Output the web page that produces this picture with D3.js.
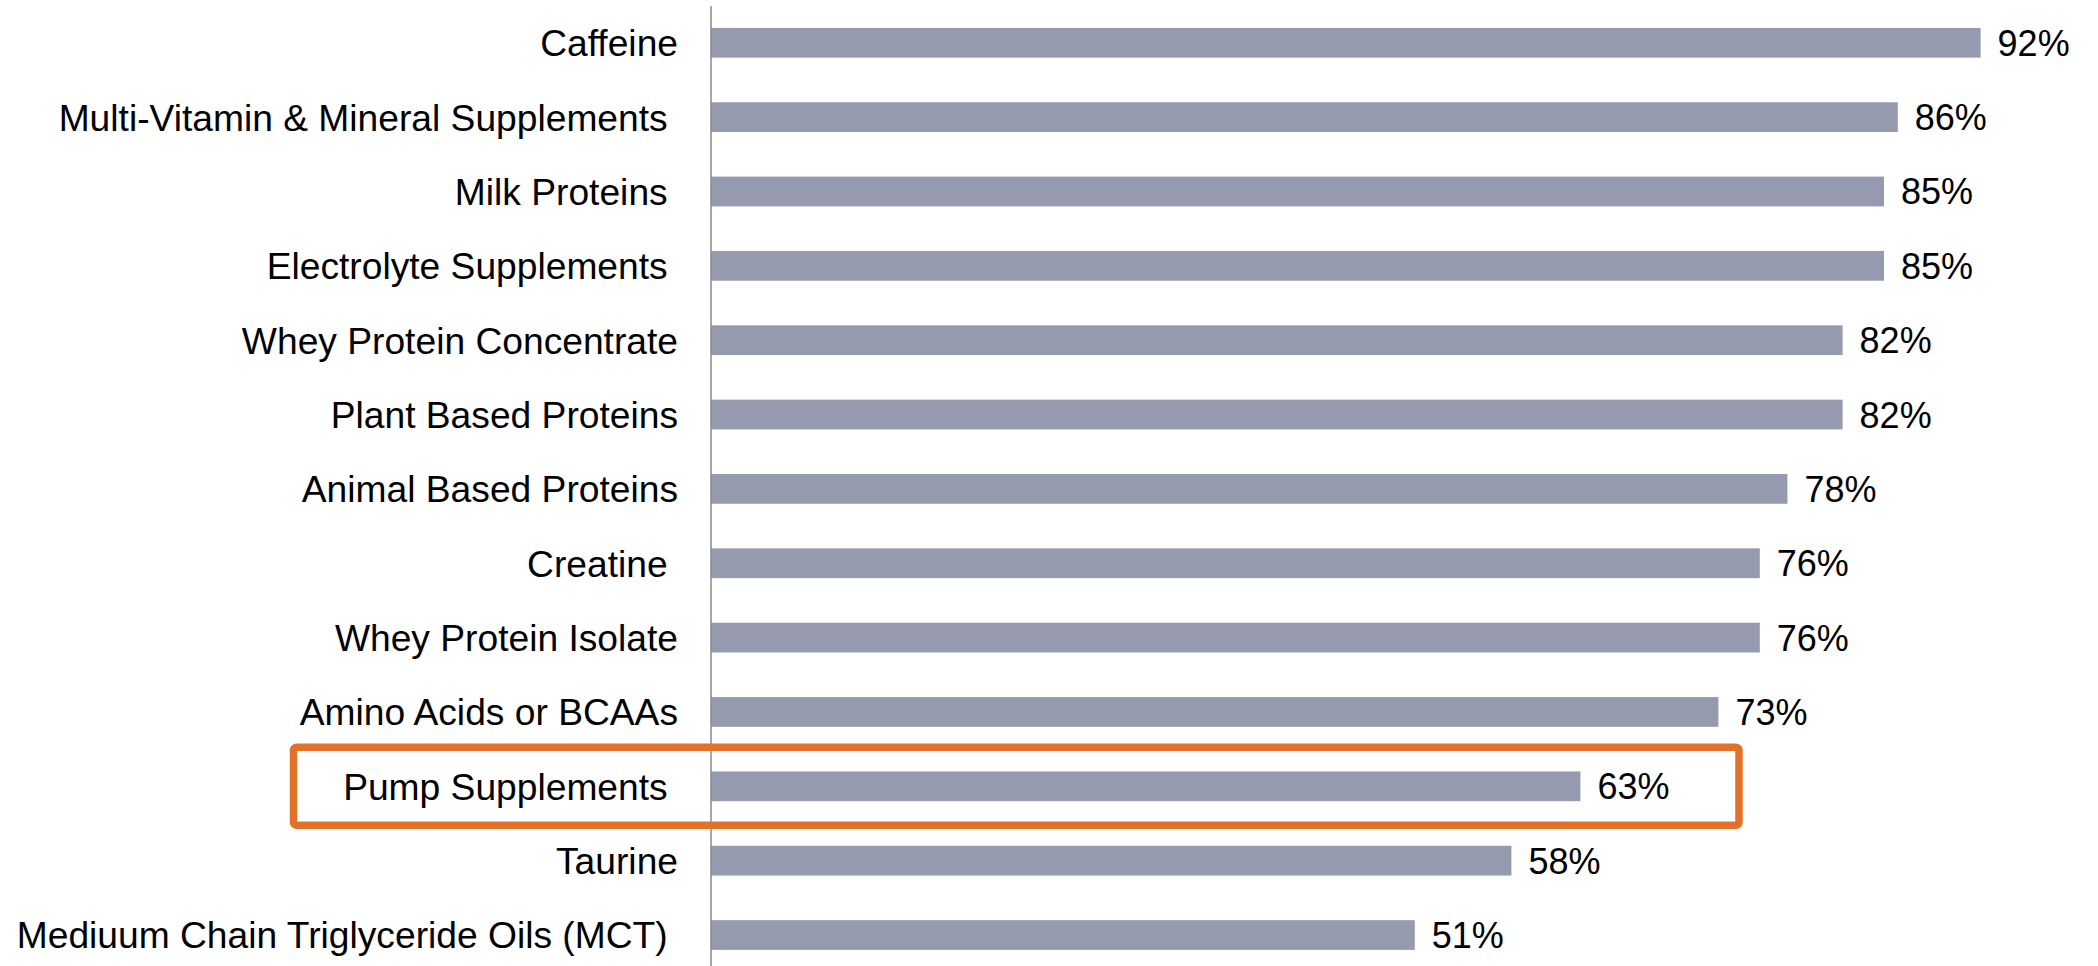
<!DOCTYPE html>
<html>
<head>
<meta charset="utf-8">
<script src="https://cdn.jsdelivr.net/npm/d3@7"></script>
<style>
  html, body { margin: 0; padding: 0; background: #ffffff; }
  svg { display: block; }
  text { font-family: "Liberation Sans", Arial, sans-serif; fill: #000000; }
</style>
</head>
<body>
<svg id="chart" width="2098" height="966"></svg>
<script>
// Supplement categories (some labels carry a trailing space, as typed in the source deck)
const categories = [
  "Caffeine",
  "Multi-Vitamin & Mineral Supplements ",
  "Milk Proteins ",
  "Electrolyte Supplements ",
  "Whey Protein Concentrate",
  "Plant Based Proteins",
  "Animal Based Proteins",
  "Creatine ",
  "Whey Protein Isolate",
  "Amino Acids or BCAAs",
  "Pump Supplements ",
  "Taurine",
  "Mediuum Chain Triglyceride Oils (MCT) "
];

// Share of respondents, in percent
const values = [92, 86, 85, 85, 82, 82, 78, 76, 76, 73, 63, 58, 51];

// Category that gets the highlight frame
const highlighted = ["Pump Supplements "];

const svg = d3.select("#chart");
const width = 2098, height = 966;

const x = d3.scaleLinear().domain([0, 100]).range([711, 2091]);
const y = d3.scaleBand()
  .domain(categories)
  .range([5.6, 972.2])
  .paddingInner(0.6)
  .paddingOuter(0.3);

const rows = categories.map((c, i) => ({ cat: c, value: values[i] }));

// Bars
svg.append("g")
  .selectAll("rect")
  .data(rows)
  .join("rect")
  .attr("x", x(0))
  .attr("y", d => y(d.cat))
  .attr("width", d => x(d.value) - x(0))
  .attr("height", y.bandwidth())
  .attr("fill", "#959aaf");

// Vertical category axis line
svg.append("line")
  .attr("x1", x(0)).attr("x2", x(0))
  .attr("y1", 6).attr("y2", height)
  .attr("stroke", "#8a8a8a")
  .attr("stroke-width", 1.5);

// Category labels
svg.append("g")
  .selectAll("text")
  .data(rows)
  .join("text")
  .attr("x", x(0) - 33)
  .attr("y", d => y(d.cat) + y.bandwidth() / 2)
  .attr("dy", "0.36em")
  .attr("text-anchor", "end")
  .style("white-space", "pre")
  .attr("font-size", 37.2)
  .text(d => d.cat);

// Value labels
svg.append("g")
  .selectAll("text")
  .data(rows)
  .join("text")
  .attr("x", d => x(d.value) + 17)
  .attr("y", d => y(d.cat) + y.bandwidth() / 2)
  .attr("dy", "0.36em")
  .attr("font-size", 36)
  .text(d => d.value + "%");

// Highlight frame around the chosen row
svg.append("g")
  .selectAll("rect")
  .data(rows.filter(d => highlighted.includes(d.cat)))
  .join("rect")
  .attr("x", 293.5)
  .attr("y", d => y(d.cat) + y.bandwidth() / 2 - 39)
  .attr("width", 1445.5)
  .attr("height", 78)
  .attr("rx", 3)
  .attr("fill", "none")
  .attr("stroke", "#e2722a")
  .attr("stroke-width", 7.5);
</script>
</body>
</html>
